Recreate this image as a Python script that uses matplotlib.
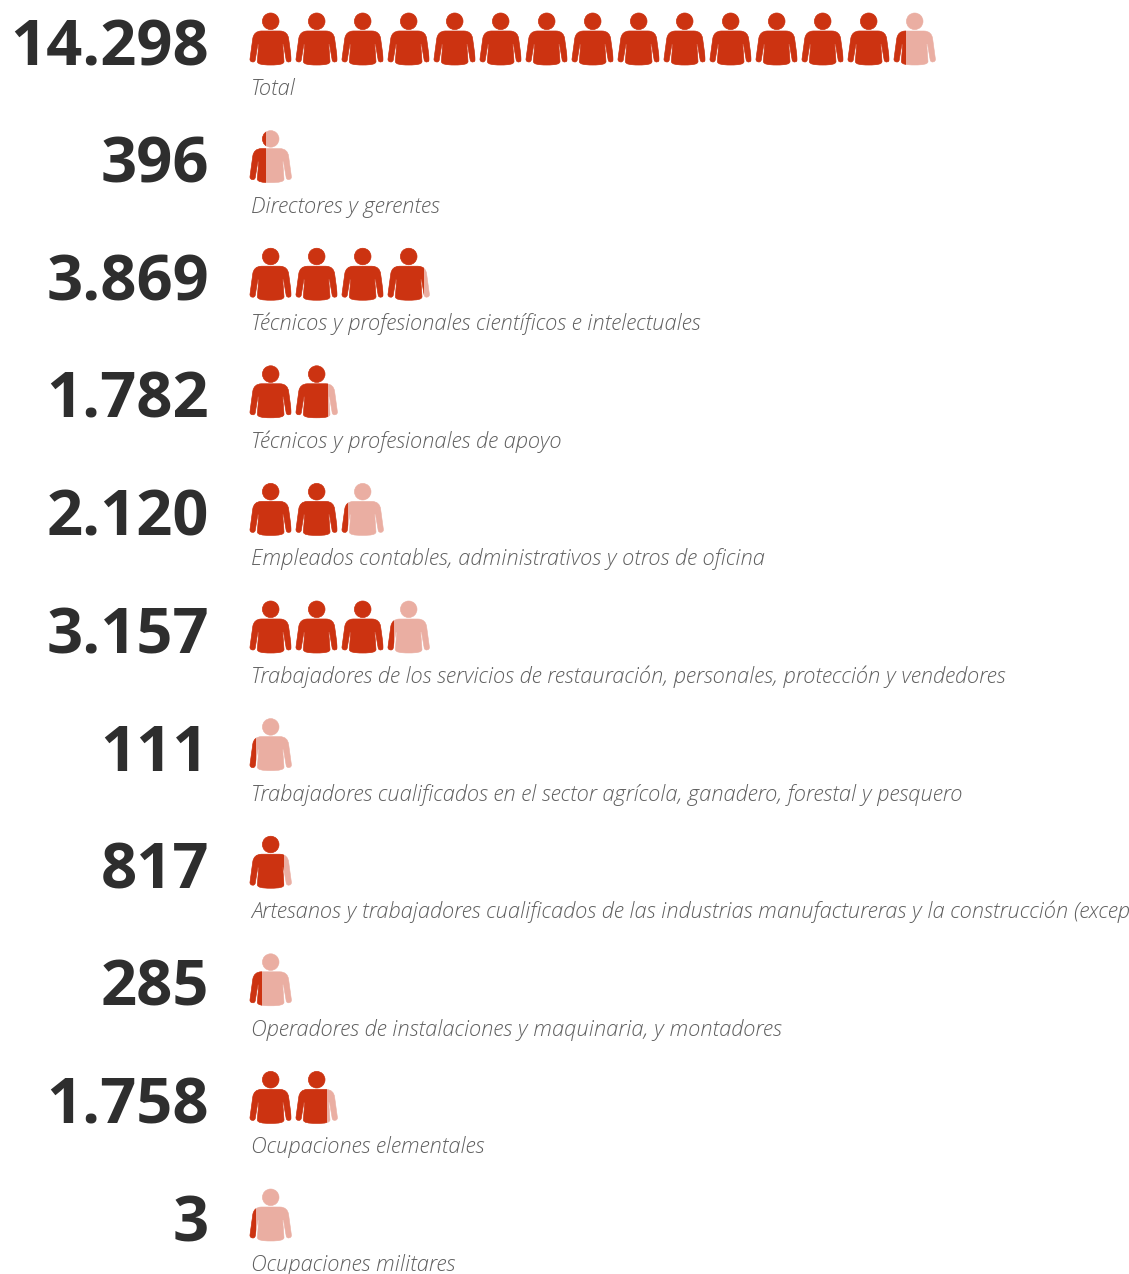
import matplotlib
matplotlib.use("Agg")
import matplotlib.pyplot as plt
from matplotlib.path import Path
from matplotlib.patches import PathPatch, Rectangle
from matplotlib.transforms import Affine2D

values = [14298, 396, 3869, 1782, 2120, 3157, 111, 817, 285, 1758, 3]
value_labels = ["14.298", "396", "3.869", "1.782", "2.120", "3.157", "111", "817", "285", "1.758", "3"]
categories = [
    "Total",
    "Directores y gerentes",
    "Técnicos y profesionales científicos e intelectuales",
    "Técnicos y profesionales de apoyo",
    "Empleados contables, administrativos y otros de oficina",
    "Trabajadores de los servicios de restauración, personales, protección y vendedores",
    "Trabajadores cualificados en el sector agrícola, ganadero, forestal y pesquero",
    "Artesanos y trabajadores cualificados de las industrias manufactureras y la construcción (excepto operadores de instalaciones y maquinaria)",
    "Operadores de instalaciones y maquinaria, y montadores",
    "Ocupaciones elementales",
    "Ocupaciones militares",
]

PER_ICON = 1000
MIN_FRAC = 0.135
DARK = "#cc3311"
LIGHT = "#eaaea2"
W, H = 1129, 1274

fig = plt.figure(figsize=(W / 100, H / 100), dpi=100, facecolor="white")
ax = fig.add_axes([0, 0, 1, 1])
ax.set_xlim(0, W)
ax.set_ylim(H, 0)
ax.axis("off")


def person_path():
    """Icon outline in local pixels: 41 wide, 52 high, y pointing down."""
    c = 20.7
    left = [
        (Path.MOVETO, (c, 18.0)),
        (Path.LINETO, (11.5, 18.0)),
        (Path.CURVE4, (6.0, 18.2)), (Path.CURVE4, (3.6, 21.0)), (Path.CURVE4, (2.8, 25.5)),
        (Path.LINETO, (0.0, 46.0)),
        (Path.CURVE4, (-0.4, 49.4)), (Path.CURVE4, (4.6, 50.2)), (Path.CURVE4, (5.2, 47.0)),
        (Path.LINETO, (7.9, 31.0)),
        (Path.LINETO, (8.7, 31.0)),
        (Path.LINETO, (7.4, 48.5)),
        (Path.CURVE4, (7.6, 51.2)), (Path.CURVE4, (12.0, 52.0)), (Path.CURVE4, (c, 52.0)),
    ]
    codes = [k for k, _ in left]
    verts = [p for _, p in left]
    mirror = [(2 * c - x, y) for x, y in verts]
    # walk the mirrored half in reverse to close the outline
    for i in range(len(left) - 2, -1, -1):
        codes.append(left[i + 1][0] if left[i + 1][0] != Path.MOVETO else Path.LINETO)
        verts.append(mirror[i])
    codes.append(Path.CLOSEPOLY)
    verts.append(verts[0])
    return Path(verts, codes)


BODY = person_path()
HEAD = Path.circle((20.7, 8.3), 8.3)
ICON = Path.make_compound_path(HEAD, BODY)
ICON_W = 41.4
ICON_H = 52.0
PITCH = 46.0
X0 = 250.0
ROW0 = 13.0
ROW_STEP = 117.6


def draw_icon(col, top, frac):
    trans = Affine2D().translate(X0 + col * PITCH, top) + ax.transData
    light = PathPatch(ICON, facecolor=LIGHT, edgecolor=LIGHT, linewidth=0.4, transform=trans)
    ax.add_patch(light)
    if frac > 0:
        dark = PathPatch(ICON, facecolor=DARK, edgecolor=DARK, linewidth=0.4, transform=trans)
        ax.add_patch(dark)
        clip = Rectangle((X0 + col * PITCH - 1, top - 1), ICON_W * frac + 1, ICON_H + 2,
                         transform=ax.transData)
        dark.set_clip_path(clip)


for row, (val, vlab, cat) in enumerate(zip(values, value_labels, categories)):
    top = ROW0 + row * ROW_STEP
    whole, rest = divmod(val, PER_ICON)
    for col in range(whole):
        draw_icon(col, top, 1.0)
    frac = rest / PER_ICON
    if rest:
        draw_icon(whole, top, max(frac, MIN_FRAC))
    ax.text(209, top + 52, vlab, ha="right", va="baseline", family="Open Sans",
            weight="bold", fontsize=45.5, color="#2e2e2e")
    ax.text(251, top + 82, cat, ha="left", va="baseline", family="Open Sans",
            weight="light", style="italic", fontsize=15.75, color="#5f5f5f", clip_on=False)

fig.savefig("out.png", dpi=100, facecolor="white")
